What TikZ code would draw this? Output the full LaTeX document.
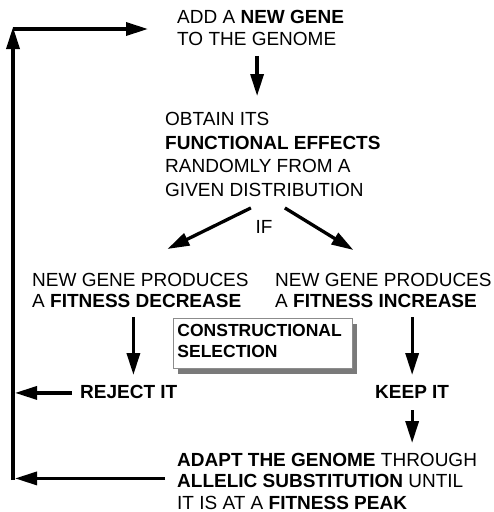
\documentclass[tikz,border=0pt]{standalone}
\usepackage{fontspec}
\setmainfont{Liberation Sans}
\usetikzlibrary{arrows.meta, positioning, calc, shadows}
\definecolor{box-edge}{HTML}{8C8C8C}
\definecolor{box-shadow}{HTML}{7A7A7A}
\tikzset{
  txt/.style={anchor=north west, inner sep=0pt, align=left,
    font=\fontsize{19}{22}\selectfont},
  flow/.style={line width=3.3pt, -{Triangle[length=22pt,width=13pt]}},
}

\begin{document}
\begin{tikzpicture}[x=1pt, y=-1pt]
  \useasboundingbox (0,0) rectangle (494,512);
  % Steps of the loop
  \node[txt] (add) at (177,10) {ADD A \textbf{NEW GENE}\\TO THE GENOME};
  \node[txt, font=\fontsize{19}{23.7}\selectfont] (obtain) at (165,112)
       {OBTAIN ITS\\\textbf{FUNCTIONAL EFFECTS}\\RANDOMLY FROM A\\GIVEN DISTRIBUTION};
  \node[txt] (if) at (255.5,220) {IF};
  %
  \node[txt, font=\fontsize{19}{21.5}\selectfont] (dec) at (32,273)
       {NEW GENE PRODUCES\\A \textbf{FITNESS DECREASE}};
  \node[txt, font=\fontsize{19}{21.5}\selectfont] (inc) at (275,273)
       {NEW GENE PRODUCES\\A \textbf{FITNESS INCREASE}};
  \node[txt, font=\fontsize{19}{21.5}\selectfont\bfseries] (reject) at (80,385) {REJECT IT};
  \node[txt, font=\fontsize{19}{21.5}\selectfont\bfseries] (keep) at (375,385) {KEEP IT};
  \node[txt, font=\fontsize{19}{21.5}\selectfont] (adapt) at (177,453)
       {\textbf{ADAPT THE GENOME} THROUGH\\\textbf{ALLELIC SUBSTITUTION} UNTIL\\IT IS AT A \textbf{FITNESS PEAK}};
  % Selection box
  \node[txt, font=\fontsize{17.5}{20.5}\selectfont\bfseries, draw=box-edge, line width=0.9pt,
        fill=white, inner xsep=4pt, inner ysep=6pt, text width=171pt,
        drop shadow={shadow xshift=5pt, shadow yshift=-6pt, fill=box-shadow, opacity=1}]
       (sel) at (173,318) {CONSTRUCTIONAL\\SELECTION\rule[-5pt]{0pt}{5pt}};
  % Arrows
  \draw[flow] ($(add.south)+(-3.5,10)$) -- ($(add.south |- obtain.north)+(-3.5,-16)$);
  \draw[flow] ($(obtain.south)+(-22,11)$) -- ($(dec.north)+(27,-24)$);
  \draw[flow] ($(obtain.south)+(12,11)$) -- ($(inc.north)+(-30,-23)$);
  \draw[flow] ($(dec.south)+(-7,9)$) -- ($(dec.south |- reject.north)+(-7,-10)$);
  \draw[flow] ($(keep.north |- inc.south)+(0,9)$) -- ($(keep.north)+(0,-10)$);
  \draw[flow] ($(keep.south)+(0,12)$) -- ($(keep.south |- adapt.north)+(0,-10)$);
  % Back to the start
  \coordinate (loopbot) at (13,480);
  \coordinate (looptop) at (13,27);
  \draw[flow] ($(reject.west)+(-8,1)$) -- ($(reject.west -| loopbot)+(2,1)$);
  \draw[flow] ($(adapt.west)+(-12,-3)$) -- ($(adapt.west -| loopbot)+(2,-3)$);
  \draw[flow] (loopbot) -- (looptop);
  \draw[flow] ($(looptop)+(0,2)$) -- ($(looptop -| add.west)+(-29,2)$);
\end{tikzpicture}
\end{document}
